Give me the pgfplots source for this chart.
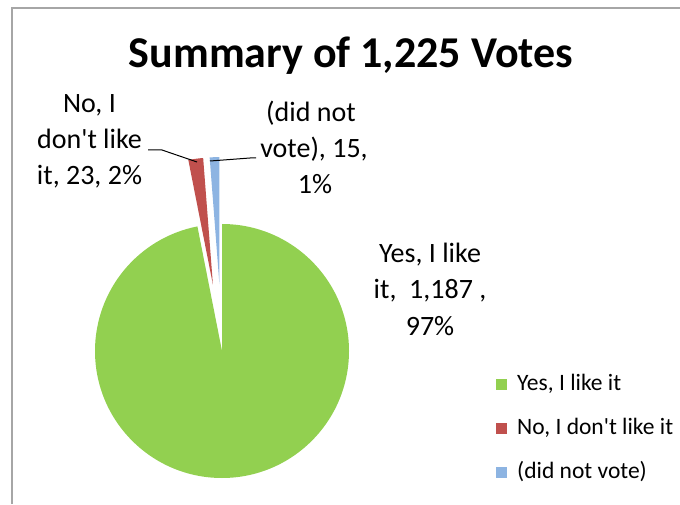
\documentclass[border=0pt]{standalone}
\usepackage{fontspec}
\setmainfont{Carlito}
\usepackage{pgfplots}
\pgfplotsset{compat=1.18}
\usepackage{pgfplotstable}
\definecolor{cyes}{HTML}{92D050}
\definecolor{cno}{HTML}{C0504D}
\definecolor{cdnv}{HTML}{8DB4E2}
\definecolor{framec}{HTML}{A6A6A6}

\pgfplotstableread{
label value explode
yes 1187 0
no 23 67
dnv 15 67
}\votes

\pgfplotstablegetelem{0}{value}\of\votes \edef\va{\pgfplotsretval}
\pgfplotstablegetelem{1}{value}\of\votes \edef\vb{\pgfplotsretval}
\pgfplotstablegetelem{2}{value}\of\votes \edef\vc{\pgfplotsretval}
\pgfplotstablegetelem{0}{explode}\of\votes \edef\xa{\pgfplotsretval}
\pgfplotstablegetelem{1}{explode}\of\votes \edef\xb{\pgfplotsretval}
\pgfplotstablegetelem{2}{explode}\of\votes \edef\xc{\pgfplotsretval}
\pgfmathsetmacro\tot{\va+\vb+\vc}
\pgfmathsetmacro\eA{360*(\va/\tot)}
\pgfmathsetmacro\eB{360*((\va+\vb)/\tot)}

% colour, start angle, end angle (clockwise from 12 o'clock), explosion
\newcommand\pieslice[4]{%
  \fill[#1] (axis cs:222,153) ++({90-(#2+#3)/2}:#4pt) -- +({90-(#2)}:127pt)
    arc[start angle={90-(#2)}, end angle={90-(#3)}, radius=127pt] -- cycle;}

\pgfplotsset{sq/.style={legend image code/.code={\fill[##1] (0pt,-5.5pt) rectangle (11pt,5.5pt);}}}

\newcommand\labfont{\fontsize{28}{34}\selectfont}
\newcommand\q{\textquotesingle}

\begin{document}
\begin{tikzpicture}
\useasboundingbox (0,0) rectangle (680pt,504pt);
\begin{axis}[
  x=1pt, y=1pt, xmin=0, xmax=680, ymin=0, ymax=504,
  anchor=origin, at={(0pt,0pt)},
  hide axis, clip=false,
  legend style={at={(axis cs:496,131)}, anchor=north west, draw=none, fill=none,
    font=\fontsize{23.5}{28}\selectfont, inner sep=0pt, column sep=10pt, row sep=22pt,
    nodes={inner sep=0pt, text height=17pt, text depth=5pt}},
  legend cell align=left,
]
% frame
\draw[framec, line width=1.5pt] (axis cs:12,0) -- (axis cs:12,496) -- (axis cs:680,496);

% pie
\pieslice{cyes}{0}{\eA}{\xa}
\pieslice{cno}{\eA}{\eB}{\xb}
\pieslice{cdnv}{\eB}{360}{\xc}

% leader lines
\draw[black, line width=1pt] (axis cs:148,354) -- (axis cs:162,354) -- (axis cs:197,342);
\draw[black, line width=1pt] (axis cs:210,343) -- (axis cs:250,346) -- (axis cs:256,346);

% title
\node[anchor=base, font=\fontsize{44}{52}\selectfont\bfseries] at (axis cs:351,436) {Summary of 1,225 Votes};

% data labels
\node[anchor=base, font=\labfont] at (axis cs:89.5,391) {No, I};
\node[anchor=base, font=\labfont] at (axis cs:89.5,355) {don\q t like};
\node[anchor=base, font=\labfont] at (axis cs:89.5,319) {it, 23, 2\%};

\node[anchor=base, font=\labfont] at (axis cs:311,382) {(did not};
\node[anchor=base, font=\labfont] at (axis cs:314,346) {vote), 15,};
\node[anchor=base, font=\labfont] at (axis cs:315,310) {1\%};

\node[anchor=base, font=\labfont] at (axis cs:430,241) {Yes, I like};
\node[anchor=base, font=\labfont] at (axis cs:430,205) {it,\ \ 1,187 ,};
\node[anchor=base, font=\labfont] at (axis cs:430,169) {97\%};

% legend
\addlegendimage{sq, fill=cyes, draw=none}
\addlegendentry{Yes, I like it}
\addlegendimage{sq, fill=cno, draw=none}
\addlegendentry{No, I don\q t like it}
\addlegendimage{sq, fill=cdnv, draw=none}
\addlegendentry{(did not vote)}
\end{axis}
\end{tikzpicture}
\end{document}
